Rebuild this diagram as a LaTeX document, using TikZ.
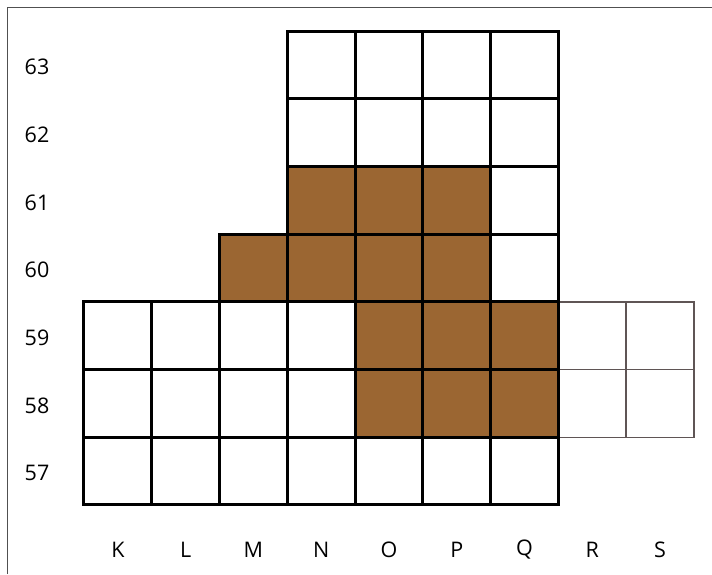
\documentclass[tikz,border=0pt]{standalone}
\usepackage{fontspec}
\setmainfont{Open Sans}
\definecolor{brownfill}{RGB}{155,102,50}
\definecolor{framegray}{RGB}{80,80,80}
\definecolor{thingray}{RGB}{95,85,85}
\begin{document}
\begin{tikzpicture}[x=1pt,y=-1pt,
  cell/.style={rectangle,draw=black,line width=3pt,minimum width=67.8pt,minimum height=67.7pt,inner sep=0pt,outer sep=0pt,fill=white},
  brown/.style={cell,fill=brownfill},
  faint/.style={cell,draw=thingray,line width=1.5pt},
  lbl/.style={font=\fontsize{21.5}{26}\selectfont,inner sep=0pt}]
\useasboundingbox (0,0) rectangle (712,574);
\fill[white] (0,0) rectangle (712,574);
\coordinate (fa) at (7.5,574);
\coordinate (fb) at (7.5,7.5);
\coordinate (fc) at (712,7.5);
\draw[framegray,line width=1.8pt] (fa) -- (fb) -- (fc);
% faint cells R,S rows 59,58
\foreach \i in {7,8}{\foreach \j in {4,5}{
  \node[faint] (c-\i-\j) at ({84+67.78*\i+33.89},{31+67.71*\j+33.85}) {};}}
% white cells
\foreach \i/\j in {3/0,4/0,5/0,6/0,3/1,4/1,5/1,6/1,6/2,6/3,
  0/4,1/4,2/4,3/4,0/5,1/5,2/5,3/5,0/6,1/6,2/6,3/6,4/6,5/6,6/6}{
  \node[cell] (c-\i-\j) at ({84+67.78*\i+33.89},{31+67.71*\j+33.85}) {};}
% brown cells
\foreach \i/\j in {3/2,4/2,5/2,2/3,3/3,4/3,5/3,4/4,5/4,6/4,4/5,5/5,6/5}{
  \node[brown] (c-\i-\j) at ({84+67.78*\i+33.89},{31+67.71*\j+33.85}) {};}
% row labels
\foreach \n [count=\j from 0] in {63,62,61,60,59,58,57}{
  \node[lbl] (r-\n) at (37,{31+67.71*\j+36}) {\n};}
% column labels
\foreach \n [count=\i from 0] in {K,L,M,N,O,P,Q,R,S}{
  \node[lbl] (k-\n) at ({84+67.78*\i+33.89},550) {\n};}
\end{tikzpicture}
\end{document}
